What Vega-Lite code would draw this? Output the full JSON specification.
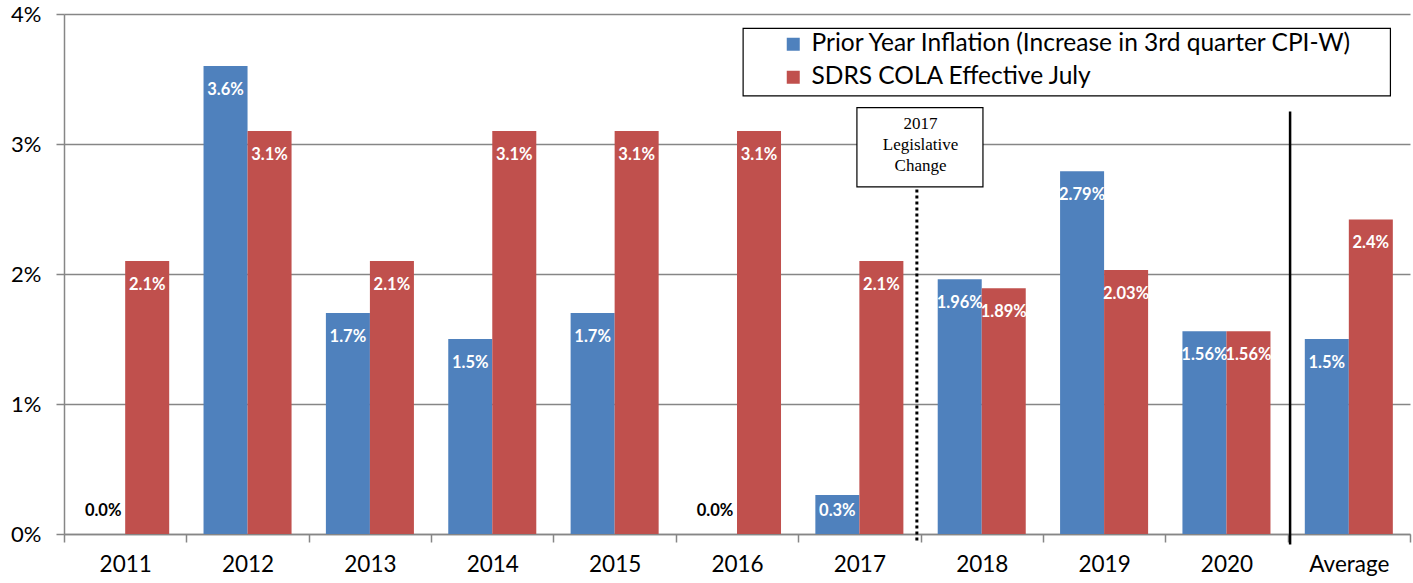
{
  "$schema": "https://vega.github.io/schema/vega-lite/v6.json",
  "autosize": "none",
  "padding": {"left": 64, "top": 14, "right": 3, "bottom": 49},
  "width": 1346,
  "height": 520,
  "config": {"view": {"stroke": null}, "font": "Lato"},
  "datasets": {
    "bars": [
      {"year": "2011", "series": "Prior Year Inflation (Increase in 3rd quarter CPI-W)", "value": 0.0, "label": "0.0%"},
      {"year": "2011", "series": "SDRS COLA Effective July", "value": 2.1, "label": "2.1%"},
      {"year": "2012", "series": "Prior Year Inflation (Increase in 3rd quarter CPI-W)", "value": 3.6, "label": "3.6%"},
      {"year": "2012", "series": "SDRS COLA Effective July", "value": 3.1, "label": "3.1%"},
      {"year": "2013", "series": "Prior Year Inflation (Increase in 3rd quarter CPI-W)", "value": 1.7, "label": "1.7%"},
      {"year": "2013", "series": "SDRS COLA Effective July", "value": 2.1, "label": "2.1%"},
      {"year": "2014", "series": "Prior Year Inflation (Increase in 3rd quarter CPI-W)", "value": 1.5, "label": "1.5%"},
      {"year": "2014", "series": "SDRS COLA Effective July", "value": 3.1, "label": "3.1%"},
      {"year": "2015", "series": "Prior Year Inflation (Increase in 3rd quarter CPI-W)", "value": 1.7, "label": "1.7%"},
      {"year": "2015", "series": "SDRS COLA Effective July", "value": 3.1, "label": "3.1%"},
      {"year": "2016", "series": "Prior Year Inflation (Increase in 3rd quarter CPI-W)", "value": 0.0, "label": "0.0%"},
      {"year": "2016", "series": "SDRS COLA Effective July", "value": 3.1, "label": "3.1%"},
      {"year": "2017", "series": "Prior Year Inflation (Increase in 3rd quarter CPI-W)", "value": 0.3, "label": "0.3%"},
      {"year": "2017", "series": "SDRS COLA Effective July", "value": 2.1, "label": "2.1%"},
      {"year": "2018", "series": "Prior Year Inflation (Increase in 3rd quarter CPI-W)", "value": 1.96, "label": "1.96%"},
      {"year": "2018", "series": "SDRS COLA Effective July", "value": 1.89, "label": "1.89%"},
      {"year": "2019", "series": "Prior Year Inflation (Increase in 3rd quarter CPI-W)", "value": 2.79, "label": "2.79%"},
      {"year": "2019", "series": "SDRS COLA Effective July", "value": 2.03, "label": "2.03%"},
      {"year": "2020", "series": "Prior Year Inflation (Increase in 3rd quarter CPI-W)", "value": 1.56, "label": "1.56%"},
      {"year": "2020", "series": "SDRS COLA Effective July", "value": 1.56, "label": "1.56%"},
      {"year": "Average", "series": "Prior Year Inflation (Increase in 3rd quarter CPI-W)", "value": 1.5, "label": "1.5%"},
      {"year": "Average", "series": "SDRS COLA Effective July", "value": 2.42, "label": "2.4%"}
    ],
    "rules": [
      {"kind": "dotted", "x": 6.97, "y": 2.65, "y2": -0.05},
      {"kind": "solid", "x": 10.02, "y": 3.25, "y2": -0.08}
    ],
    "boxes": [
      {"kind": "annotation", "x": 6.48, "x2": 7.51, "y": 3.28, "y2": 2.67},
      {"kind": "legend", "x": 5.55, "x2": 10.84, "y": 3.89, "y2": 3.37}
    ],
    "notes": [
      {"x": 7.0, "y": 3.215, "text": "2017|Legislative|Change"}
    ]
  },
  "layer": [
    {
      "data": {"name": "bars"},
      "layer": [
        {
          "mark": {"type": "bar"},
          "encoding": {
            "x": {"field": "year", "type": "nominal", "sort": null,
                  "scale": {"paddingInner": 0, "paddingOuter": 0},
                  "axis": {"title": null, "labelAngle": 0, "labelFontSize": 22.5, "labelColor": "black",
                           "labelPadding": 11, "tickBand": "extent", "tickSize": 8, "tickColor": "#868686",
                           "tickWidth": 1.5, "domainColor": "#868686", "domainWidth": 1.5, "grid": false}},
            "xOffset": {"field": "series", "type": "nominal", "sort": null,
                        "scale": {"paddingInner": 0, "paddingOuter": 0.39}},
            "y": {"field": "value", "type": "quantitative",
                  "scale": {"domain": [0, 4], "nice": false},
                  "axis": {"title": null, "values": [0, 1, 2, 3, 4], "labelExpr": "datum.value + '%'",
                           "labelFontSize": 22, "labelColor": "black", "labelPadding": 15,
                           "tickSize": 8, "tickColor": "#868686", "tickWidth": 1.5,
                           "domainColor": "#868686", "domainWidth": 1.5,
                           "gridColor": "#868686", "gridWidth": 1.5}},
            "color": {"field": "series", "type": "nominal", "sort": null,
                      "scale": {"range": ["#4F81BD", "#C0504D"]},
                      "legend": {"orient": "none", "legendX": 717, "legendY": 18, "title": null,
                                 "symbolType": "square", "symbolSize": 169, "labelFontSize": 24.5,
                                 "labelColor": "black", "labelLimit": 700, "rowPadding": 8,
                                 "labelOffset": 6, "padding": 0}}
          }
        },
        {
          "transform": [{"filter": "datum.value >= 0.5"}],
          "mark": {"type": "text", "baseline": "middle", "align": "center", "dy": 24,
                   "fontSize": 16.5, "fontWeight": "bold", "fill": "white"},
          "encoding": {
            "x": {"field": "year", "type": "nominal", "sort": null},
            "xOffset": {"field": "series", "type": "nominal", "sort": null},
            "y": {"field": "value", "type": "quantitative"},
            "text": {"field": "label"}
          }
        },
        {
          "transform": [{"filter": "datum.value < 0.5"}],
          "mark": {"type": "text", "baseline": "middle", "align": "center", "dy": -23,
                   "fontSize": 16.5, "fontWeight": "bold"},
          "encoding": {
            "x": {"field": "year", "type": "nominal", "sort": null},
            "xOffset": {"field": "series", "type": "nominal", "sort": null},
            "y": {"datum": 0},
            "fill": {"condition": {"test": "datum.value == 0", "value": "black"}, "value": "white"},
            "text": {"field": "label"}
          }
        }
      ]
    },
    {
      "layer": [
        {
          "data": {"name": "rules"},
          "transform": [{"filter": "datum.kind == 'dotted'"}],
          "mark": {"type": "rule", "color": "black", "strokeWidth": 3, "strokeDash": [3, 3]},
          "encoding": {
            "x": {"field": "x", "type": "quantitative", "scale": {"domain": [0, 11], "nice": false, "zero": false}, "axis": null},
            "y": {"field": "y", "type": "quantitative"},
            "y2": {"field": "y2"}
          }
        },
        {
          "data": {"name": "rules"},
          "transform": [{"filter": "datum.kind == 'solid'"}],
          "mark": {"type": "rule", "color": "black", "strokeWidth": 2.5},
          "encoding": {
            "x": {"field": "x", "type": "quantitative"},
            "y": {"field": "y", "type": "quantitative"},
            "y2": {"field": "y2"}
          }
        },
        {
          "data": {"name": "boxes"},
          "mark": {"type": "rect", "fill": "white", "stroke": "black", "strokeWidth": 1.2},
          "encoding": {
            "x": {"field": "x", "type": "quantitative"},
            "x2": {"field": "x2"},
            "y": {"field": "y", "type": "quantitative"},
            "y2": {"field": "y2"}
          }
        },
        {
          "data": {"name": "notes"},
          "transform": [{"calculate": "split(datum.text, '|')", "as": "lines"}],
          "mark": {"type": "text", "font": "Liberation Serif", "fontSize": 17, "align": "center",
                   "baseline": "top", "lineHeight": 21, "color": "black"},
          "encoding": {
            "x": {"field": "x", "type": "quantitative"},
            "y": {"field": "y", "type": "quantitative"},
            "text": {"field": "lines"}
          }
        }
      ]
    }
  ],
  "resolve": {"scale": {"x": "independent"}, "axis": {"x": "independent"}}
}
